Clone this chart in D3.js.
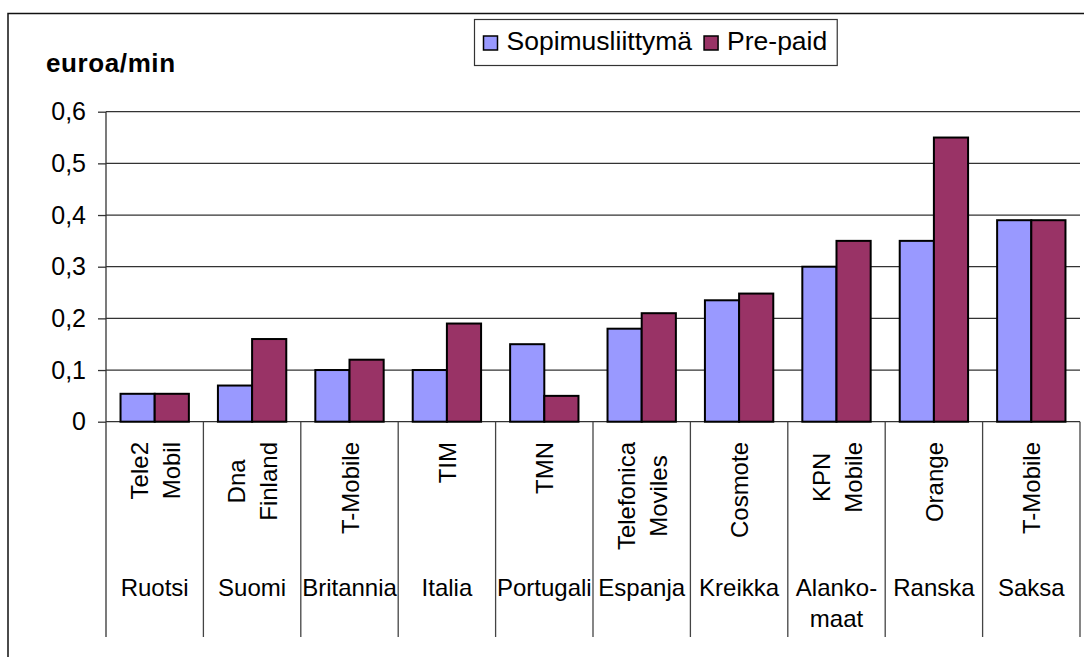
<!DOCTYPE html>
<html>
<head>
<meta charset="utf-8">
<script src="https://cdn.jsdelivr.net/npm/d3@7"></script>
<style>
  body { margin: 0; background: #fff; }
  svg { display: block; font-family: "Liberation Sans", Arial, sans-serif; }
</style>
</head>
<body>
<div id="chart"></div>
<script>
// DATA
const countries = [["Ruotsi"], ["Suomi"], ["Britannia"], ["Italia"], ["Portugali"], ["Espanja"], ["Kreikka"], ["Alanko-", "maat"], ["Ranska"], ["Saksa"]];
const operators = [["Tele2", "Mobil"], ["Dna", "Finland"], ["T-Mobile"], ["TIM"], ["TMN"], ["Telefonica", "Moviles"], ["Cosmote"], ["KPN", "Mobile"], ["Orange"], ["T-Mobile"]];
const seriesNames = ["Sopimusliittymä", "Pre-paid"];
const sopimus = [0.054, 0.07, 0.10, 0.10, 0.15, 0.18, 0.235, 0.30, 0.35, 0.39];
const prepaid = [0.054, 0.16, 0.12, 0.19, 0.05, 0.21, 0.248, 0.35, 0.55, 0.39];
const yTicks = [0, 0.1, 0.2, 0.3, 0.4, 0.5, 0.6];
const yLabel = "euroa/min";

// GLOBALS AND CONSTANTS
const width = 1084;
const height = 657;
const margin = { top: 111.7, right: 4, bottom: 235.3, left: 106 };
const colors = ["#9999ff", "#993366"];

const svg = d3.select('#chart').append('svg')
  .attr('width', width)
  .attr('height', height);

svg.append('rect').attr('width', width).attr('height', height).attr('fill', '#fff');

// OUTER FRAME
svg.append('path')
  .attr('d', `M8,${height + 5}V13.5H${width + 5}`)
  .attr('fill', 'none')
  .attr('stroke', '#111')
  .attr('stroke-width', 1.5);

const keys = countries.map((d, i) => i);
const rows = keys.map(i => ({ i, values: [sopimus[i], prepaid[i]] }));

const x = d3.scaleBand()
  .domain(keys)
  .range([margin.left, width - margin.right])
  .padding(0);

const xInner = d3.scaleBand()
  .domain([0, 1])
  .range([0, x.bandwidth()])
  .paddingInner(0)
  .paddingOuter(0.425);

const y = d3.scaleLinear()
  .domain([0, 0.6])
  .range([height - margin.bottom, margin.top]);

const locale = d3.formatLocale({ decimal: ",", thousands: " ", grouping: [3], currency: ["", "€"] });
const fmt = v => v === 0 ? "0" : locale.format(".1f")(v);

// GRIDLINES
svg.append('g')
  .selectAll('line')
  .data(yTicks)
  .join('line')
  .attr('x1', margin.left)
  .attr('x2', width - margin.right)
  .attr('y1', d => y(d))
  .attr('y2', d => y(d))
  .attr('stroke', '#333')
  .attr('stroke-width', 1.3);

// BARS
const groups = svg.append('g')
  .selectAll('g')
  .data(rows)
  .join('g')
  .attr('transform', d => `translate(${x(d.i)},0)`);

groups.selectAll('rect')
  .data(d => d.values.map((v, s) => ({ v, s })))
  .join('rect')
  .attr('x', d => xInner(d.s))
  .attr('width', xInner.bandwidth())
  .attr('y', d => y(d.v))
  .attr('height', d => y(0) - y(d.v))
  .attr('fill', d => colors[d.s])
  .attr('stroke', '#000')
  .attr('stroke-width', 2);

// Y AXIS
const yAxis = svg.append('g')
  .attr('transform', `translate(${margin.left},0)`)
  .call(d3.axisLeft(y).tickValues(yTicks).tickFormat(fmt).tickSize(8).tickPadding(12));
yAxis.select('.domain').remove();
yAxis.selectAll('line').attr('stroke', '#333').attr('stroke-width', 1.3);
yAxis.selectAll('text')
  .style('font-family', '"Liberation Sans", Arial, sans-serif')
  .style('font-size', '25px')
  .attr('fill', '#000');

// CATEGORY DIVIDERS (vertical axis line included)
const bottomY = 637;
svg.append('line')
  .attr('x1', margin.left).attr('x2', margin.left)
  .attr('y1', margin.top).attr('y2', bottomY)
  .attr('stroke', '#333').attr('stroke-width', 1.3);

svg.append('g')
  .selectAll('line')
  .data(keys.slice(1).map(k => x(k)).concat([x(keys[keys.length - 1]) + x.bandwidth()]))
  .join('line')
  .attr('x1', d => d).attr('x2', d => d)
  .attr('y1', y(0)).attr('y2', bottomY)
  .attr('stroke', '#444').attr('stroke-width', 1.3);

// OPERATOR LABELS (rotated)
const opTop = 442;
const opGroups = svg.append('g')
  .selectAll('g')
  .data(operators)
  .join('g');

opGroups.each(function(lines, i) {
  const g = d3.select(this);
  const texts = g.selectAll('text')
    .data(lines)
    .join('text')
    .style('font-size', '24px')
    .attr('text-anchor', 'middle')
    .text(d => d);
  let maxLen = 0;
  texts.each(function() { maxLen = Math.max(maxLen, this.getComputedTextLength()); });
  const n = lines.length;
  texts
    .attr('x', -maxLen / 2)
    .attr('y', (d, j) => (j - (n - 1) / 2) * 32 + 9);
  g.attr('transform', `translate(${x(i) + x.bandwidth() / 2},${opTop}) rotate(-90)`);
});

// COUNTRY LABELS
svg.append('g')
  .selectAll('text')
  .data(countries)
  .join('text')
  .attr('text-anchor', 'middle')
  .attr('x', (d, i) => x(i) + x.bandwidth() / 2)
  .attr('y', 596)
  .style('font-size', '24px')
  .selectAll('tspan')
  .data(d => d)
  .join('tspan')
  .attr('x', function() { return d3.select(this.parentNode).attr('x'); })
  .attr('dy', (d, j) => j === 0 ? 0 : 31)
  .text(d => d);

// AXIS TITLE
svg.append('text')
  .attr('x', 46)
  .attr('y', 72)
  .style('font-size', '26px')
  .style('font-weight', 'bold')
  .style('letter-spacing', '0.6px')
  .text(yLabel);

// LEGEND
const legend = svg.append('g');
const legendBox = legend.append('rect')
  .attr('x', 474.5).attr('y', 19.5)
  .attr('height', 46)
  .attr('fill', '#fff')
  .attr('stroke', '#333')
  .attr('stroke-width', 1.2);

let lx = 483.5;
seriesNames.forEach((name, s) => {
  legend.append('rect')
    .attr('x', lx).attr('y', 36)
    .attr('width', 14).attr('height', 14)
    .attr('fill', colors[s])
    .attr('stroke', '#000')
    .attr('stroke-width', 1.5);
  const t = legend.append('text')
    .attr('x', lx + 23)
    .attr('y', 50)
    .style('font-size', '26.5px')
    .text(name);
  lx = lx + 23 + t.node().getComputedTextLength() + 12;
});
legendBox.attr('width', lx - 474.5 - 2);
</script>
</body>
</html>
